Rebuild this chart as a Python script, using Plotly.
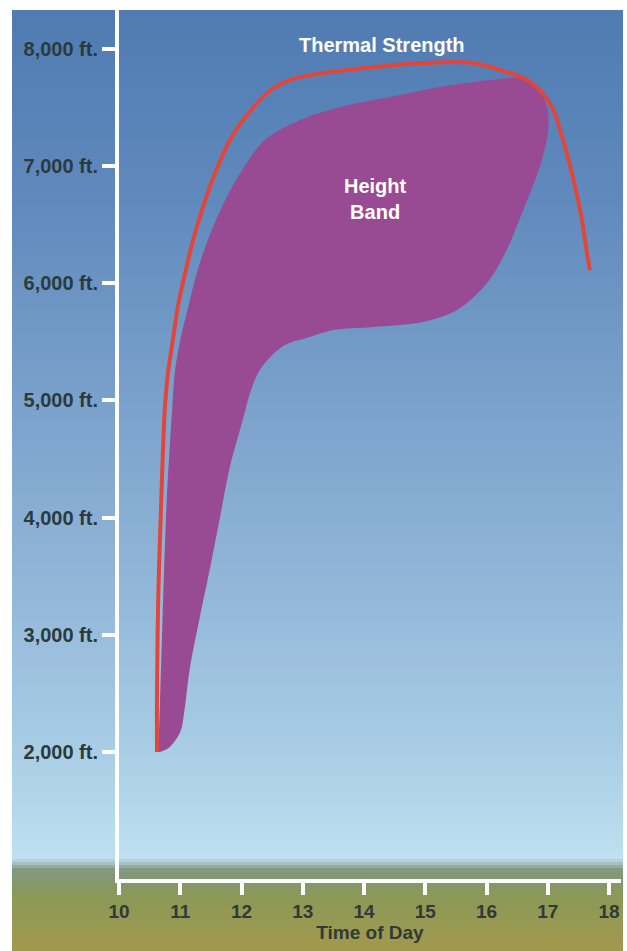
import numpy as np
import plotly.graph_objects as go

# ---- data (time of day in hours, height in feet) ----
thermal_time = [10.62, 10.62, 10.64, 10.69, 10.75, 10.80, 10.88, 10.96, 11.08, 11.21, 11.37,
                11.57, 11.81, 12.09, 12.42, 12.79, 13.33, 14.15, 14.96, 15.78, 16.33, 16.66,
                16.87, 17.07, 17.25, 17.41, 17.55, 17.64, 17.69]
thermal_height = [2000, 2444, 3297, 4150, 4944, 5234, 5515, 5797, 6087, 6368, 6650,
                  6940, 7222, 7435, 7623, 7734, 7793, 7844, 7879, 7879, 7802, 7734,
                  7648, 7503, 7222, 6906, 6565, 6258, 6112]

band_time = [10.64, 10.67, 10.72, 10.78, 10.87, 10.91, 11.00, 11.13, 11.27, 11.45, 11.68,
             11.98, 12.38, 12.96, 13.61, 14.42, 15.24, 16.06, 16.50, 16.82, 17.00, 17.00,
             16.87, 16.60, 16.33, 16.01, 15.52, 14.96, 14.15, 13.49, 13.12, 12.71, 12.47,
             12.27, 12.14, 12.02, 11.81, 11.65, 11.49, 11.32, 11.16, 11.06, 11.00, 10.83,
             10.67]
band_height = [2000, 2444, 3297, 4150, 4944, 5234, 5515, 5797, 6087, 6368, 6650,
               6940, 7222, 7392, 7503, 7588, 7674, 7734, 7751, 7674, 7478, 7281,
               6991, 6624, 6283, 6002, 5771, 5669, 5626, 5600, 5541, 5473, 5370,
               5234, 5063, 4833, 4432, 4005, 3578, 3152, 2725, 2320, 2170, 2043,
               2000]

x_ticks = [10, 11, 12, 13, 14, 15, 16, 17, 18]
y_ticks = [2000, 3000, 4000, 5000, 6000, 7000, 8000]
y_tick_labels = ["2,000 ft.", "3,000 ft.", "4,000 ft.", "5,000 ft.", "6,000 ft.",
                 "7,000 ft.", "8,000 ft."]

# ---- layout geometry (pixels) ----
W, H = 627, 951
L, R, T, B = 119, 621, 10, 879  # plot area edges


def xp(px):
    return (px - L) / (R - L)


def yp(py):
    return (B - py) / (B - T)


# background gradient (sky + ground) as thin strips
stops_y = [10, 200, 400, 600, 750, 858, 864, 869, 882, 898, 951]
stops_c = [(80, 123, 178), (96, 138, 189), (122, 161, 203), (148, 184, 217),
           (168, 205, 229), (190, 224, 240), (165, 190, 190), (132, 153, 130),
           (132, 152, 108), (140, 153, 86), (162, 153, 78)]
shapes = []
step = 3
for y0 in range(10, 951, step):
    y1 = min(y0 + step, 951)
    ym = (y0 + y1) / 2
    c = [int(round(np.interp(ym, stops_y, [s[i] for s in stops_c]))) for i in range(3)]
    shapes.append(dict(type="rect", xref="paper", yref="paper",
                       x0=xp(12), x1=xp(623), y0=yp(y1), y1=yp(y0),
                       fillcolor=f"rgb({c[0]},{c[1]},{c[2]})", line=dict(width=0),
                       layer="below"))

fig = go.Figure()
fig.add_trace(go.Scatter(x=band_time, y=band_height, mode="lines", fill="toself",
                         fillcolor="#984a93", line=dict(width=0, shape="spline", smoothing=0.9),
                         hoverinfo="skip", showlegend=False))
fig.add_trace(go.Scatter(x=thermal_time, y=thermal_height, mode="lines",
                         line=dict(color="#e2463b", width=4, shape="spline", smoothing=1.0),
                         hoverinfo="skip", showlegend=False))

# axis ranges from pixel mapping: 61.25 px per hour, 117.2 px per 1000 ft (2000 ft at y=752)
px_per_hr = 61.25
px_per_ft = 0.1172
x_range = [10, 10 + (R - L) / px_per_hr]
y_range = [2000 - (B - 752) / px_per_ft, 2000 + (752 - T) / px_per_ft]

font_fam = "Liberation Sans, Arial, Helvetica, sans-serif"

fig.update_layout(
    width=W, height=H,
    margin=dict(l=L, r=W - R, t=T, b=H - B, pad=0),
    paper_bgcolor="white",
    plot_bgcolor="rgba(0,0,0,0)",
    shapes=shapes,
    showlegend=False,
    font=dict(family=font_fam),
    xaxis=dict(range=x_range, tickmode="array", tickvals=x_ticks,
               showgrid=False, zeroline=False, showline=True, linecolor="white",
               linewidth=4, ticks="outside", ticklen=12, tickwidth=4, tickcolor="white",
               tickfont=dict(size=19, color="#303a36", family=font_fam, weight="bold"),
               title=dict(text="Time of Day", standoff=2,
                          font=dict(size=19, color="#303a36", family=font_fam, weight="bold"))),
    yaxis=dict(range=y_range, tickmode="array", tickvals=y_ticks, ticktext=y_tick_labels,
               showgrid=False, zeroline=False, showline=True, linecolor="white",
               linewidth=4, ticks="outside", ticklen=13, tickwidth=4, tickcolor="white",
               tickfont=dict(size=20, color="#2b3a3c", family=font_fam, weight="bold")),
    annotations=[
        dict(x=14.30, y=8035, xref="x", yref="y", text="Thermal Strength", showarrow=False,
             font=dict(size=20, color="white", family=font_fam, weight="bold")),
        dict(x=14.18, y=6720, xref="x", yref="y", text="Height<br>Band", showarrow=False,
             font=dict(size=20, color="white", family=font_fam, weight="bold")),
    ],
)

fig.write_html("out.html", config={"displayModeBar": False},
               post_script="document.body.style.margin='0';")
